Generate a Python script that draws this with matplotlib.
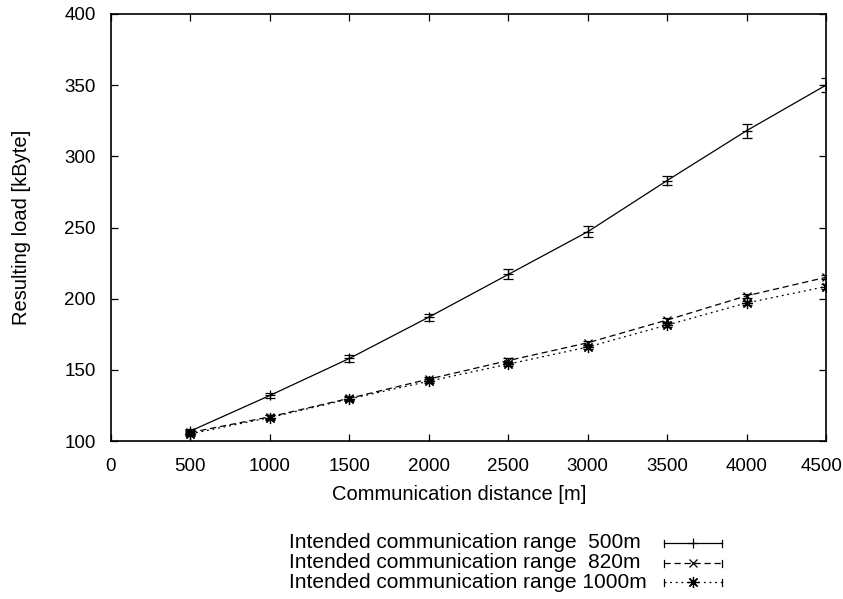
import matplotlib
matplotlib.use("Agg")
import matplotlib.pyplot as plt
from matplotlib.lines import Line2D
from matplotlib.transforms import ScaledTranslation

plt.rcParams['font.family'] = ['Liberation Sans', 'DejaVu Sans']

distance = [500, 1000, 1500, 2000, 2500, 3000, 3500, 4000, 4500]
load_500 = [107, 132, 158, 187, 217, 247, 283, 318, 350]
err_500 = [1.5, 2, 2.5, 2.5, 3.5, 4, 3, 5, 5]
load_820 = [106, 117, 130, 143.5, 156.5, 169, 185, 202, 215]
err_820 = [1.5, 1.5, 1.5, 1.5, 1.5, 1.5, 1.5, 1.5, 1.5]
load_1000 = [105, 116.5, 129.5, 142, 154, 166, 181.5, 197, 208.5]
err_1000 = [1.5, 1.5, 1.5, 1.5, 1.5, 1.5, 1.5, 1.5, 1.5]
labels = ["Intended communication range  500m",
          "Intended communication range  820m",
          "Intended communication range 1000m"]
xticks = [0, 500, 1000, 1500, 2000, 2500, 3000, 3500, 4000, 4500]
yticks = [100, 150, 200, 250, 300, 350, 400]

W, H = 843, 599
FS = 14.5
TFS = 13.5
LFS = 15
fig = plt.figure(figsize=(W / 100, H / 100), dpi=100)
ax = fig.add_axes([111 / W, 1 - 441 / H, (826 - 111) / W, (441 - 14) / H])

lw = 0.9
styles = [
    dict(ls='-', marker='+', ms=7),
    dict(ls=(0, (5, 3)), marker='x', ms=6),
    dict(ls=(0, (1.5, 3)), marker=(8, 2, 0), ms=8),
]
series = [(load_500, err_500), (load_820, err_820), (load_1000, err_1000)]
for (y, e), st in zip(series, styles):
    ax.errorbar(distance, y, yerr=e, color='black', lw=lw, elinewidth=lw,
                capsize=3.5, capthick=lw, ls=st['ls'], marker=st['marker'],
                ms=st['ms'], mew=lw)

ax.set_xlim(0, 4500)
ax.set_ylim(100, 400)
ax.set_xticks(xticks)
ax.set_yticks(yticks)
ax.tick_params(direction='in', top=True, right=True, length=5, width=0.9,
               labelsize=TFS)
ax.tick_params(axis='x', pad=12)
ax.tick_params(axis='y', pad=11)
for s in ax.spines.values():
    s.set_linewidth(1.2)
last = ax.get_xticklabels()[-1]
last.set_transform(last.get_transform() + ScaledTranslation(-4 / 100, 0, fig.dpi_scale_trans))
ax.set_xlabel("Communication distance [m]", fontsize=FS, va='center')
ax.set_ylabel("Resulting load [kByte]", fontsize=FS, va='center')
ax.xaxis.set_label_coords((459 - 111) / 715, (441 - 495) / 427)
ax.yaxis.set_label_coords((22 - 111) / 715, 0.5)

# legend drawn manually (gnuplot style)
rows_y = [543, 563, 582]
for lab, st, yy in zip(labels, styles, rows_y):
    fy = 1 - yy / H
    fig.text(289 / W, fy, lab, fontsize=LFS, ha='left', va='center')
    x0, x1 = 664 / W, 722 / W
    fig.add_artist(Line2D([x0, x1], [fy, fy], color='black', lw=lw, ls=st['ls'],
                          transform=fig.transFigure))
    cap = 3.5 / H
    for xc in (x0, x1):
        fig.add_artist(Line2D([xc, xc], [fy - cap, fy + cap], color='black', lw=lw,
                              transform=fig.transFigure))
    fig.add_artist(Line2D([(x0 + x1) / 2], [fy], color='black', lw=0,
                          marker=st['marker'], ms=st['ms'], mew=lw,
                          transform=fig.transFigure))

fig.savefig("out.png", dpi=100)
